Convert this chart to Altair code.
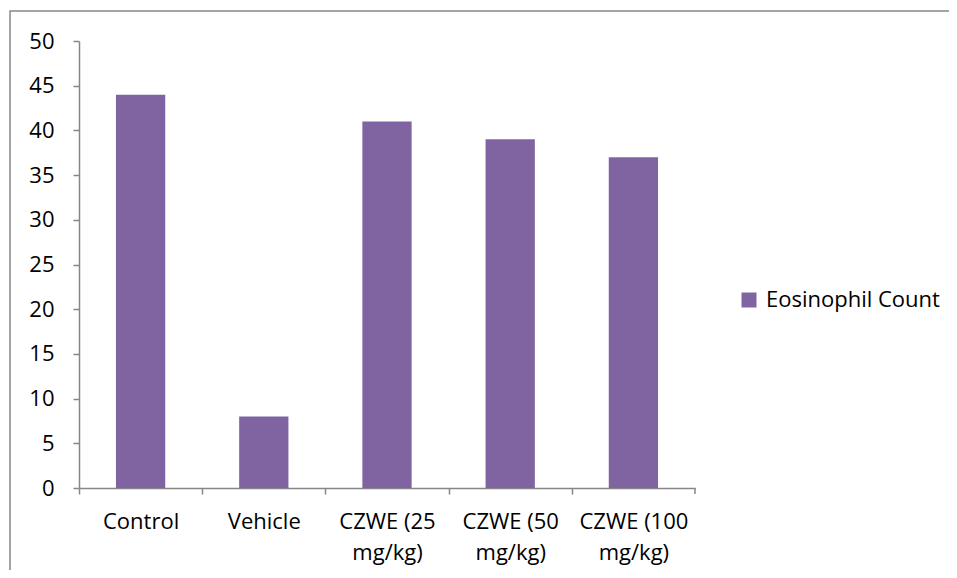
import altair as alt
import pandas as pd

categories = ["Control", "Vehicle", "CZWE (25|mg/kg)", "CZWE (50|mg/kg)", "CZWE (100|mg/kg)"]
values = [44, 8, 41, 39, 37]
series_name = "Eosinophil Count"

df = pd.DataFrame({"group": categories, "count": values, "series": series_name})

FONT = "Open Sans"
AXIS_COL = "#878787"
W, H = 616, 447
STEP = W / len(categories)

bars = alt.Chart(df).mark_bar(color="#8064A2").encode(
    x=alt.X(
        "group:N",
        sort=categories,
        scale=alt.Scale(paddingInner=0.6, paddingOuter=0.3),
        axis=alt.Axis(
            title=None,
            labelAngle=0,
            labelExpr="split(datum.label, '|')",
            labelFont=FONT,
            labelFontSize=22,
            labelColor="#000000",
            labelLineHeight=31,
            labelPadding=17,
            tickOffset=-STEP / 2,
            labelOffset=STEP / 2,
            tickSize=6,
            tickColor=AXIS_COL,
            tickWidth=1.5,
            domainColor=AXIS_COL,
            domainWidth=1.5,
            grid=False,
        ),
    ),
    y=alt.Y(
        "count:Q",
        scale=alt.Scale(domain=[0, 50]),
        axis=alt.Axis(
            title=None,
            values=list(range(0, 51, 5)),
            labelFont=FONT,
            labelFontSize=22,
            labelColor="#000000",
            labelPadding=19,
            tickSize=6,
            tickColor=AXIS_COL,
            tickWidth=1.5,
            domainColor=AXIS_COL,
            domainWidth=1.5,
            grid=False,
        ),
    ),
    color=alt.Color(
        "series:N",
        scale=alt.Scale(range=["#8064A2"]),
        legend=alt.Legend(
            title=None,
            orient="none",
            legendX=659,
            legendY=248,
            symbolType="square",
            symbolSize=225,
            symbolStrokeWidth=0,
            labelFont=FONT,
            labelFontSize=22,
            labelColor="#000000",
            labelOffset=6,
            labelLimit=400,
            padding=0,
        ),
    ),
)

# last x-axis tick at the right end of the axis
end_tick = alt.Chart(pd.DataFrame({"a": [0]})).mark_rule(
    color=AXIS_COL, strokeWidth=1.5
).encode(x=alt.value(W), y=alt.value(H), y2=alt.value(H + 6))

border = alt.Chart(pd.DataFrame({"a": [0]})).mark_rect(
    fill=None, stroke=AXIS_COL, strokeWidth=1.5
).encode(
    x=alt.value(-69), x2=alt.value(900), y=alt.value(-30), y2=alt.value(600)
)

chart = alt.layer(border, bars, end_tick).properties(
    width=W,
    height=H,
    autosize=alt.AutoSizeParams(type="none"),
    padding={"left": 71, "top": 33, "right": 254, "bottom": 82},
).configure_view(stroke=None)

chart.save("out.html", embed_options={"renderer": "svg", "actions": False})
